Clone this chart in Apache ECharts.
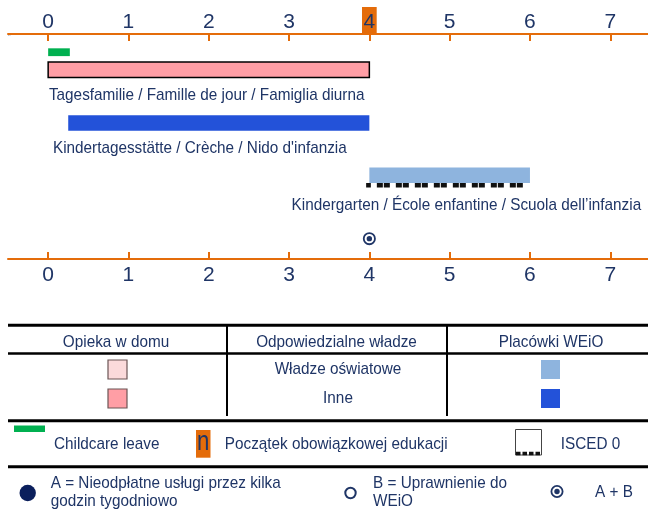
<!DOCTYPE html>
<html><head><meta charset="utf-8">
<script src="https://cdn.jsdelivr.net/npm/echarts@6/dist/echarts.min.js"></script>
<style>html,body{margin:0;padding:0;background:#fff}#c{width:648px;height:511px}</style>
</head><body><div id="c"></div>
<script>
// ---- data ----
const tickValues = [0, 1, 2, 3, 4, 5, 6, 7];
const categories = ['Tagesfamilie / Famille de jour / Famiglia diurna', "Kindertagesstätte / Crèche / Nido d'infanzia", 'Kindergarten / École enfantine / Scuola dell’infanzia'];
const serviceStart = [0, 0.25, 4];
const serviceEnd = [4, 4, 6];
const serviceType = ['homeOther', 'centreOther', 'centreEdu'];
const childcareLeave = [0, 0.27];
const isced0Range = [3.96, 5.97];
const compulsoryAge = 4;
const abAge = 4;

// ---- layout / style ----
const FONT = '"Liberation Sans", Arial, sans-serif';
const SX = 0.9;
const NAVY = '#1f3566';
const ORANGE = '#e46c0a';
const COLORS = { homeOther: '#ff9ea5', homeEdu: '#fbdadb', centreOther: '#2352d9', centreEdu: '#8eb4de', leave: '#00b050' };
const ROW_Y = [0.668, 1.66, 2.636];
const LEAVE_Y = 0.34;
const MARK_Y = 3.82;
const LABEL_POS = [{ v: 0.01, align: 'left', dy: 25.5 }, { v: 0.06, align: 'left', dy: 25 }, { v: 7.385, align: 'right', dy: 30 }];

const chart = echarts.init(document.getElementById('c'), null, { renderer: 'canvas' });

function axis(pos) {
  const top = pos === 'top';
  return {
    type: 'value', position: pos, min: -0.5, max: 7.47,
    axisLine: { show: true, lineStyle: { color: ORANGE, width: 2 } },
    axisTick: { show: true, inside: true, length: 7, customValues: tickValues, lineStyle: { color: ORANGE, width: 2 } },
    axisLabel: {
      customValues: tickValues, margin: top ? 0 : 6, fontSize: 21, color: NAVY, fontFamily: FONT,
      formatter: v => top ? ((v === compulsoryAge ? '{hl|' : '{n|') + v + '}') : String(v),
      rich: {
        n: { color: NAVY, fontSize: 21, fontFamily: FONT, padding: [5, 1.5, 1, 1.5] },
        hl: { backgroundColor: ORANGE, color: NAVY, fontSize: 21, fontFamily: FONT, padding: [5, 1.5, 1, 1.5] }
      }
    },
    splitLine: { show: false }
  };
}

function txt(x, y, text, opt) {
  opt = opt || {};
  return { type: 'text', x: x, y: y, scaleX: opt.sx || SX, z: 10,
    style: { text: text, fill: opt.fill || NAVY, fontSize: opt.fs || 17, fontFamily: FONT, align: opt.align || 'left', verticalAlign: 'middle' } };
}

const option = {
  animation: false,
  grid: { left: 8, right: 0, top: 34, height: 225, containLabel: false },
  xAxis: [axis('top'), axis('bottom')],
  yAxis: { type: 'value', min: 0, max: 4.2, inverse: true, show: false },
  series: [
    {
      type: 'custom', xAxisIndex: 0,
      data: categories.map((c, i) => [serviceStart[i], serviceEnd[i], ROW_Y[i], i]),
      renderItem: (params, api) => {
        const i = api.value(3);
        const s = api.coord([api.value(0), api.value(2)]);
        const e = api.coord([api.value(1), api.value(2)]);
        const h = 15.5;
        const t = serviceType[i];
        const L = LABEL_POS[i];
        const a = api.coord([L.v, api.value(2)]);
        return {
          type: 'group', children: [
            { type: 'rect', shape: { x: s[0], y: s[1] - h / 2, width: e[0] - s[0], height: h },
              style: { fill: COLORS[t], stroke: t === 'homeOther' ? '#000' : null, lineWidth: 1.5 } },
            { type: 'text', x: a[0], y: s[1] + L.dy, scaleX: SX,
              style: { text: categories[i], fill: NAVY, fontSize: 17, fontFamily: FONT, align: L.align, verticalAlign: 'middle' } }
          ]
        };
      }
    },
    {
      type: 'custom', xAxisIndex: 0,
      data: [[childcareLeave[0], childcareLeave[1], LEAVE_Y]],
      renderItem: (params, api) => {
        const s = api.coord([api.value(0), api.value(2)]);
        const e = api.coord([api.value(1), api.value(2)]);
        return { type: 'rect', shape: { x: s[0], y: s[1] - 3.9, width: e[0] - s[0], height: 7.8 }, style: { fill: COLORS.leave } };
      }
    },
    {
      type: 'custom', xAxisIndex: 0,
      data: [[isced0Range[0], isced0Range[1], ROW_Y[2]]],
      renderItem: (params, api) => {
        const s = api.coord([api.value(0), api.value(2)]);
        const e = api.coord([api.value(1), api.value(2)]);
        return { type: 'line', shape: { x1: s[0], y1: s[1] + 10, x2: e[0], y2: s[1] + 10 },
          style: { stroke: '#111', lineWidth: 4.5, lineDash: [6, 1, 6, 6], lineDashOffset: 8.3 } };
      }
    },
    {
      type: 'custom', xAxisIndex: 0,
      data: [[abAge, MARK_Y]],
      renderItem: (params, api) => {
        const c = api.coord([api.value(0), api.value(1)]);
        return { type: 'group', children: [
          { type: 'circle', shape: { cx: c[0], cy: c[1], r: 5.6 }, style: { fill: '#fff', stroke: NAVY, lineWidth: 1.8 } },
          { type: 'circle', shape: { cx: c[0], cy: c[1], r: 2.7 }, style: { fill: NAVY } }
        ] };
      }
    }
  ],
  graphic: [
    { type: 'text', x: 8, y: 33, style: { text: '″', fontSize: 8, fill: '#8a94b0', fontFamily: FONT } },
    // table
    { type: 'line', shape: { x1: 8, y1: 325.3, x2: 648, y2: 325.3 }, style: { stroke: '#000', lineWidth: 3 } },
    { type: 'line', shape: { x1: 8, y1: 353.5, x2: 648, y2: 353.5 }, style: { stroke: '#000', lineWidth: 2.5 } },
    { type: 'line', shape: { x1: 227, y1: 325, x2: 227, y2: 416 }, style: { stroke: '#000', lineWidth: 2 } },
    { type: 'line', shape: { x1: 447, y1: 325, x2: 447, y2: 416 }, style: { stroke: '#000', lineWidth: 2 } },
    txt(116, 342, 'Opieka w domu', { align: 'center' }),
    txt(336.5, 342, 'Odpowiedzialne władze', { align: 'center' }),
    txt(551, 342, 'Placówki WEiO', { align: 'center' }),
    { type: 'rect', shape: { x: 108, y: 360, width: 19, height: 19 }, style: { fill: COLORS.homeEdu, stroke: '#6b5555', lineWidth: 1.2 } },
    { type: 'rect', shape: { x: 108, y: 389, width: 19, height: 19 }, style: { fill: COLORS.homeOther, stroke: '#6b5555', lineWidth: 1.2 } },
    { type: 'rect', shape: { x: 541, y: 360, width: 19, height: 19 }, style: { fill: COLORS.centreEdu } },
    { type: 'rect', shape: { x: 541, y: 389, width: 19, height: 19 }, style: { fill: COLORS.centreOther } },
    txt(338, 369.7, 'Władze oświatowe', { align: 'center' }),
    txt(338, 398, 'Inne', { align: 'center' }),
    // legend
    { type: 'line', shape: { x1: 8, y1: 420.7, x2: 648, y2: 420.7 }, style: { stroke: '#000', lineWidth: 3 } },
    { type: 'rect', shape: { x: 14, y: 425.5, width: 31, height: 6.5 }, style: { fill: COLORS.leave } },
    txt(54, 444, 'Childcare leave'),
    { type: 'rect', shape: { x: 196, y: 430, width: 14.5, height: 27.7 }, style: { fill: ORANGE } },
    txt(203.2, 443, 'n', { align: 'center', fs: 27, sx: 0.82 }),
    txt(224.8, 444, 'Początek obowiązkowej edukacji'),
    { type: 'rect', shape: { x: 515.5, y: 429.5, width: 26, height: 25.5 }, style: { fill: 'none', stroke: '#444', lineWidth: 1 } },
    { type: 'line', shape: { x1: 516, y1: 453.5, x2: 541.5, y2: 453.5 }, style: { stroke: '#111', lineWidth: 3.5, lineDash: [4.5, 2] } },
    txt(560.7, 444, 'ISCED 0'),
    { type: 'line', shape: { x1: 8, y1: 466.7, x2: 648, y2: 466.7 }, style: { stroke: '#000', lineWidth: 3 } },
    { type: 'circle', shape: { cx: 27.7, cy: 493, r: 8.2 }, style: { fill: '#0b1f5c' } },
    txt(50.7, 483.7, 'A = Nieodpłatne usługi przez kilka'),
    txt(50.7, 501.4, 'godzin tygodniowo'),
    { type: 'circle', shape: { cx: 350.5, cy: 493, r: 5.2 }, style: { fill: '#fff', stroke: NAVY, lineWidth: 2 } },
    txt(373, 483.7, 'B = Uprawnienie do'),
    txt(373, 501.4, 'WEiO'),
    { type: 'circle', shape: { cx: 557, cy: 491.5, r: 5.6 }, style: { fill: '#fff', stroke: NAVY, lineWidth: 1.8 } },
    { type: 'circle', shape: { cx: 557, cy: 491.5, r: 2.7 }, style: { fill: NAVY } },
    txt(595, 492, 'A + B')
  ]
};
chart.setOption(option);
</script>
</body></html>
